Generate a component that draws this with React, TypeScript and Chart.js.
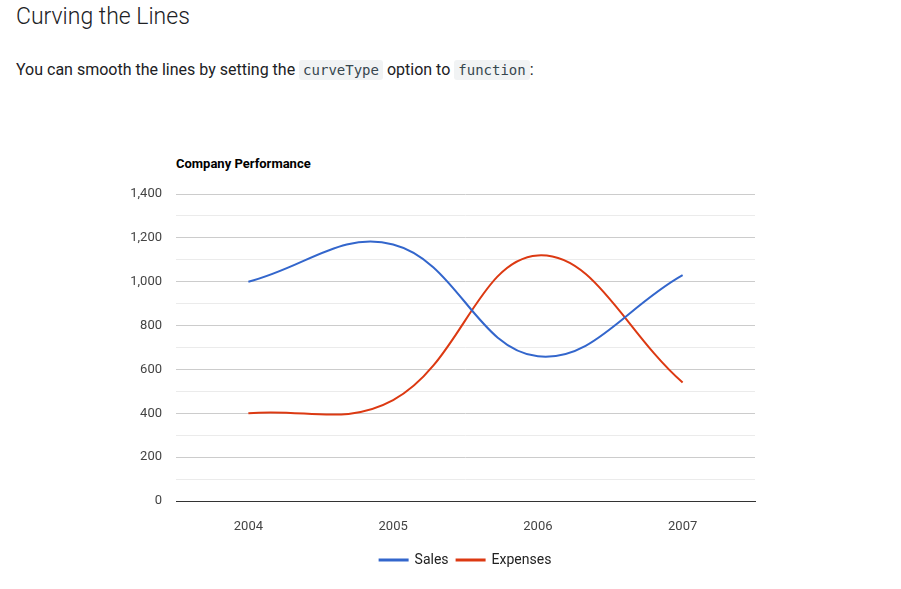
import React, { useEffect, useRef } from "react";
import { Chart, registerables } from "chart.js";
Chart.register(...registerables);

const years = ["2004", "2005", "2006", "2007"];
const sales = [1000, 1170, 660, 1030];
const expenses = [400, 460, 1120, 540];

export default function App() {
  const ref = useRef<HTMLCanvasElement>(null);
  useEffect(() => {
    const c = new Chart(ref.current!, {
      type: "line",
      data: {
        labels: years,
        datasets: [
          { label: "Sales", data: sales, borderColor: "#3366cc", backgroundColor: "#3366cc", borderWidth: 2, pointRadius: 0, tension: 0.4 },
          { label: "Expenses", data: expenses, borderColor: "#dc3912", backgroundColor: "#dc3912", borderWidth: 2, pointRadius: 0, tension: 0.4 },
        ],
      },
      options: {
        animation: false,
        responsive: false,
        layout: { padding: { top: 194, right: 146, bottom: 12, left: 0 } },
        plugins: {
          legend: {
            position: "bottom",
            fullSize: false,
            labels: { boxWidth: 28, boxHeight: 1, color: "#222", font: { family: "Roboto", size: 14 }, padding: 8 },
          },
          tooltip: { enabled: false },
        },
        scales: {
          x: {
            offset: true,
            grid: { display: false },
            border: { color: "#333" },
            ticks: { color: "#444", font: { family: "Roboto", size: 13 }, padding: 10 },
            afterFit: (s: any) => { s.height = 44; },
          },
          y: {
            min: 0,
            max: 1400,
            ticks: {
              stepSize: 100,
              color: "#444",
              font: { family: "Roboto", size: 13 },
              padding: 14,
              callback: (v: any) => (v % 200 === 0 ? Number(v).toLocaleString("en-US") : ""),
            },
            border: { display: false },
            grid: {
              drawTicks: false,
              color: (ctx: any) => (ctx.tick && ctx.tick.value % 200 === 0 ? "#cccccc" : "#ebebeb"),
            },
            afterFit: (s: any) => { s.width = 176; },
          },
        },
      },
    });
    return () => c.destroy();
  }, []);
  const code: React.CSSProperties = { fontFamily: "'DejaVu Sans Mono', monospace", fontSize: 14, background: "#f1f3f4", padding: "2px 4px", borderRadius: 3, color: "#37474f" };
  return (
    <div style={{ position: "absolute", left: 0, top: 0, width: 901, height: 589, fontFamily: "Roboto", background: "#fff" }}>
      <div style={{ position: "absolute", left: 16, top: 3, fontSize: 23, color: "#202124", fontWeight: 300 }}>Curving the Lines</div>
      <div style={{ position: "absolute", left: 16, top: 60, fontSize: 16, color: "#202124" }}>
        You can smooth the lines by setting the <span style={code}>curveType</span> option to <span style={code}>function</span>:
      </div>
      <div style={{ position: "absolute", left: 176, top: 156, fontSize: 13, fontWeight: "bold", color: "#000" }}>Company Performance</div>
      <canvas ref={ref} width={901} height={589} style={{ position: "absolute", left: 0, top: 0 }} />
    </div>
  );
}
